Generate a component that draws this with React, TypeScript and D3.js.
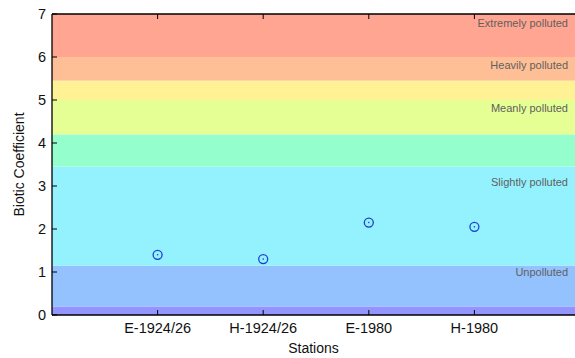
import React from "react";
import * as d3 from "d3";

const stations = ["E-1924/26", "H-1924/26", "E-1980", "H-1980"];
const coefficients = [1.4, 1.3, 2.15, 2.05];
const yTicks = [0, 1, 2, 3, 4, 5, 6, 7];
const bandStarts = [0, 0.2, 1.15, 3.45, 4.2, 5.0, 5.45, 6.0];
const bandEnds = [0.2, 1.15, 3.45, 4.2, 5.0, 5.45, 6.0, 7.0];
const bandColors = ["#9494ff", "#94c2ff", "#94f2ff", "#94ffcc", "#e6ff94", "#fff294", "#ffbf96", "#ffa591"];
const classLabels = ["Extremely polluted", "Heavily polluted", "Meanly polluted", "Slightly polluted", "Unpolluted"];
const classLabelValues = [6.78, 5.81, 4.8, 3.1, 1.0];

export default function App() {
  const W = 575, H = 358;
  const left = 52, right = 580, top = 14, bottom = 315;
  const x = d3.scaleLinear().domain([0, stations.length + 1]).range([left, right]);
  const y = d3.scaleLinear().domain([0, 7]).range([bottom, top]);
  const font = "'Liberation Sans', Arial, sans-serif";
  return (
    <svg width={W} height={H} style={{ position: "absolute", left: 0, top: 0, background: "#fff" }} fontFamily={font}>
      {bandStarts.map((s, i) => (
        <rect key={i} x={left} y={y(bandEnds[i])} width={right - left} height={y(s) - y(bandEnds[i])} fill={bandColors[i]} />
      ))}
      {classLabels.map((t, i) => (
        <text key={t} x={568} y={y(classLabelValues[i])} dy="0.35em" textAnchor="end" fontSize={11} fill="#5f6060">{t}</text>
      ))}
      <line x1={left} x2={right} y1={top} y2={top} stroke="#000" strokeWidth={1.3} />
      <line x1={left} x2={right} y1={bottom} y2={bottom} stroke="#000" strokeWidth={1.3} />
      <line x1={left} x2={left} y1={top} y2={bottom} stroke="#000" strokeWidth={1.3} />
      <line x1={right} x2={right} y1={top} y2={bottom} stroke="#000" strokeWidth={1.3} />
      {yTicks.map((v) => (
        <g key={v}>
          <line x1={left} x2={left + 5} y1={y(v)} y2={y(v)} stroke="#000" />
          <line x1={right} x2={right - 5} y1={y(v)} y2={y(v)} stroke="#000" />
          <text x={left - 6} y={y(v)} dy="0.36em" textAnchor="end" fontSize={14.5} fill="#111">{v}</text>
        </g>
      ))}
      {stations.map((s, i) => (
        <g key={s}>
          <line x1={x(i + 1)} x2={x(i + 1)} y1={bottom} y2={bottom - 5} stroke="#000" />
          <line x1={x(i + 1)} x2={x(i + 1)} y1={top} y2={top + 5} stroke="#000" />
          <text x={x(i + 1)} y={bottom + 18} textAnchor="middle" fontSize={14.5} fill="#111">{s}</text>
        </g>
      ))}
      {coefficients.map((c, i) => (
        <g key={i}>
          <circle cx={x(i + 1)} cy={y(c)} r={4.5} fill="none" stroke="#1f3fd0" strokeWidth={1.3} />
          <circle cx={x(i + 1)} cy={y(c)} r={0.8} fill="#1f3fd0" />
        </g>
      ))}
      <text x={(left + 575) / 2} y={353} textAnchor="middle" fontSize={14} fill="#111">Stations</text>
      <text transform={`translate(24, ${(top + bottom) / 2}) rotate(-90)`} textAnchor="middle" fontSize={14} fill="#111">Biotic Coefficient</text>
    </svg>
  );
}
